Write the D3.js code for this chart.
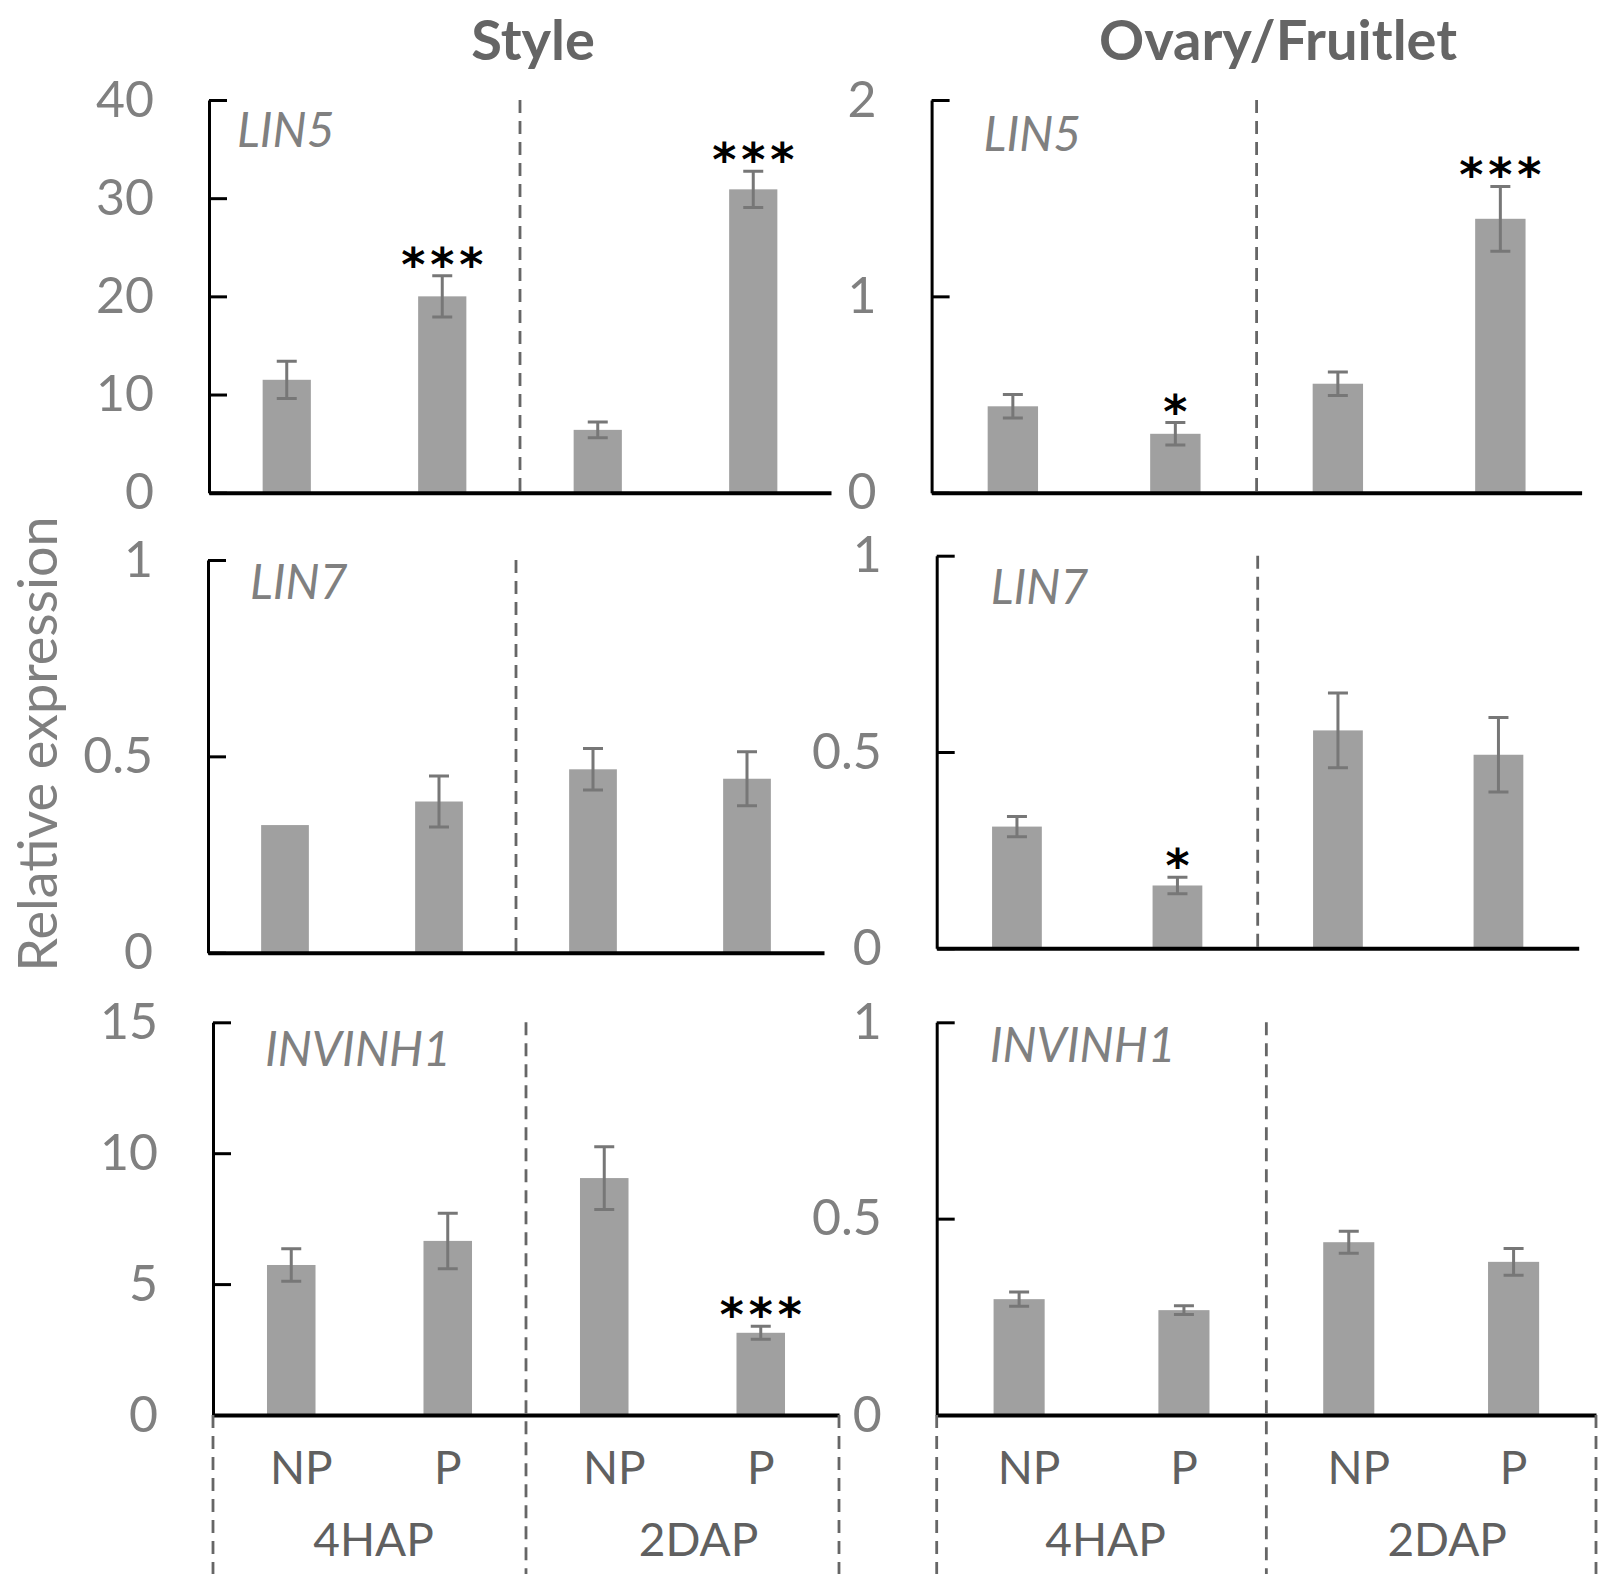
<!DOCTYPE html>
<html>
<head>
<meta charset="utf-8">
<script src="https://cdn.jsdelivr.net/npm/d3@7"></script>
<style>
  body { margin: 0; background: #fff; }
</style>
</head>
<body>
<div id="chart"></div>
<script>
// ---- data ----
const genes = ["LIN5", "LIN7", "INVINH1"];
const tissues = ["Style", "Ovary/Fruitlet"];
const stages = ["4HAP", "2DAP"];
const treatments = ["NP", "P"];
const categories = ["4HAP NP", "4HAP P", "2DAP NP", "2DAP P"];

// order of every array: 4HAP NP, 4HAP P, 2DAP NP, 2DAP P
const styleLIN5 = [11.5, 20.0, 6.4, 30.9];
const styleLIN5Err = [1.9, 2.1, 0.8, 1.85];
const styleLIN5Sig = ["", "***", "", "***"];
const styleLIN5Ticks = [0, 10, 20, 30, 40];

const ovaryLIN5 = [0.44, 0.30, 0.555, 1.395];
const ovaryLIN5Err = [0.06, 0.057, 0.06, 0.165];
const ovaryLIN5Sig = ["", "*", "", "***"];
const ovaryLIN5Ticks = [0, 1, 2];

const styleLIN7 = [0.325, 0.385, 0.467, 0.443];
const styleLIN7Err = [0, 0.065, 0.053, 0.069];
const styleLIN7Sig = ["", "", "", ""];
const styleLIN7Ticks = [0, 0.5, 1];

const ovaryLIN7 = [0.31, 0.16, 0.555, 0.493];
const ovaryLIN7Err = [0.026, 0.021, 0.095, 0.095];
const ovaryLIN7Sig = ["", "*", "", ""];
const ovaryLIN7Ticks = [0, 0.5, 1];

const styleINVINH1 = [5.73, 6.65, 9.05, 3.14];
const styleINVINH1Err = [0.62, 1.06, 1.2, 0.25];
const styleINVINH1Sig = ["", "", "", "***"];
const styleINVINH1Ticks = [0, 5, 10, 15];

const ovaryINVINH1 = [0.295, 0.267, 0.44, 0.39];
const ovaryINVINH1Err = [0.018, 0.011, 0.028, 0.034];
const ovaryINVINH1Sig = ["", "", "", ""];
const ovaryINVINH1Ticks = [0, 0.5, 1];

// ---- layout ----
const width = 1600;
const height = 1584;
const barColor = "#a0a0a0";
const errColor = "#777777";
const textGray = "#808080";
const catBottom = 1574; // lower end of the category divider lines

// one entry per panel, row by row
const layout = [
    {x0: 209, x1: 831, top: 100, bottom: 492.7, labelDx: 28, labelDy: 47},
    {x0: 931.6, x1: 1581.6, top: 100, bottom: 492.7, labelDx: 52, labelDy: 51},
    {x0: 208, x1: 824, top: 560, bottom: 952.7, labelDx: 42, labelDy: 39},
    {x0: 936.7, x1: 1578.7, top: 555.7, bottom: 948.3, labelDx: 54, labelDy: 48},
    {x0: 213, x1: 839, top: 1022.3, bottom: 1415, labelDx: 52, labelDy: 44},
    {x0: 936.7, x1: 1596, top: 1022.3, bottom: 1415, labelDx: 53, labelDy: 40}
];

const panelData = [
    {gene: genes[0], values: styleLIN5, err: styleLIN5Err, sig: styleLIN5Sig, ticks: styleLIN5Ticks},
    {gene: genes[0], values: ovaryLIN5, err: ovaryLIN5Err, sig: ovaryLIN5Sig, ticks: ovaryLIN5Ticks},
    {gene: genes[1], values: styleLIN7, err: styleLIN7Err, sig: styleLIN7Sig, ticks: styleLIN7Ticks},
    {gene: genes[1], values: ovaryLIN7, err: ovaryLIN7Err, sig: ovaryLIN7Sig, ticks: ovaryLIN7Ticks},
    {gene: genes[2], values: styleINVINH1, err: styleINVINH1Err, sig: styleINVINH1Sig, ticks: styleINVINH1Ticks},
    {gene: genes[2], values: ovaryINVINH1, err: ovaryINVINH1Err, sig: ovaryINVINH1Sig, ticks: ovaryINVINH1Ticks}
];

const svg = d3.select("#chart")
    .append("svg")
        .attr("width", width)
        .attr("height", height)
        .style("font-family", "Lato, 'Open Sans', sans-serif");

// column titles
const titleX = [533, 1278];
svg.selectAll("text.title")
    .data(tissues)
    .enter().append("text")
        .attr("class", "title")
        .attr("x", (d, i) => titleX[i])
        .attr("y", 60)
        .attr("text-anchor", "middle")
        .attr("font-size", 56)
        .attr("font-weight", "bold")
        .attr("fill", "#656565")
        .text(d => d);

// y axis title
svg.append("text")
    .attr("transform", "translate(57,744) rotate(-90)")
    .attr("text-anchor", "middle")
    .attr("font-size", 54)
    .attr("fill", textGray)
    .text("Relative expression");

panelData.forEach((p, idx) => {
    const L = layout[idx];
    const isBottomRow = idx >= 4;
    const g = svg.append("g").attr("class", "panel");

    const x = d3.scaleBand()
        .domain(categories)
        .range([L.x0, L.x1])
        .paddingInner(0.69)
        .paddingOuter(0.345);

    const y = d3.scaleLinear()
        .domain([0, d3.max(p.ticks)])
        .range([L.bottom, L.top]);

    const rows = categories.map((c, i) => ({cat: c, v: p.values[i], e: p.err[i], s: p.sig[i]}));

    // divider between the two stages
    const mid = (L.x0 + L.x1) / 2;
    g.append("line")
        .attr("x1", mid).attr("x2", mid)
        .attr("y1", L.top).attr("y2", isBottomRow ? catBottom : L.bottom)
        .attr("stroke", "#666")
        .attr("stroke-width", 2.8)
        .attr("stroke-dasharray", "13,8");

    // bars
    g.selectAll("rect.bar")
        .data(rows)
        .enter().append("rect")
            .attr("class", "bar")
            .attr("x", d => x(d.cat))
            .attr("width", x.bandwidth())
            .attr("y", d => y(d.v))
            .attr("height", d => y(0) - y(d.v))
            .attr("fill", barColor);

    // error bars
    const cap = 10;
    g.selectAll("path.err")
        .data(rows.filter(d => d.e > 0))
        .enter().append("path")
            .attr("class", "err")
            .attr("d", d => {
                const cx = x(d.cat) + x.bandwidth() / 2;
                const yt = y(d.v + d.e), yb = y(d.v - d.e);
                return `M${cx - cap},${yt}H${cx + cap}M${cx},${yt}V${yb}M${cx - cap},${yb}H${cx + cap}`;
            })
            .attr("fill", "none")
            .attr("stroke", errColor)
            .attr("stroke-width", 3);

    // significance stars
    g.selectAll("text.sig")
        .data(rows.filter(d => d.s))
        .enter().append("text")
            .attr("class", "sig")
            .attr("x", d => x(d.cat) + x.bandwidth() / 2)
            .attr("y", d => y(d.v + d.e) + 5)
            .attr("dx", d => d.s.length > 1 ? 2.5 : 0)
            .attr("text-anchor", "middle")
            .attr("font-family", "'DejaVu Sans', sans-serif")
            .attr("font-weight", "bold")
            .attr("font-size", 46)
            .attr("letter-spacing", d => d.s.length > 1 ? 5 : 0)
            .attr("fill", "#000")
            .text(d => d.s);

    // y axis
    const yAxis = g.append("g")
        .attr("transform", `translate(${L.x0},0)`)
        .call(d3.axisLeft(y)
            .tickValues(p.ticks)
            .tickSizeInner(-18)
            .tickSizeOuter(0)
            .tickPadding(55)
            .tickFormat(d => String(d)));
    yAxis.attr("font-family", null).attr("font-size", 50).attr("color", "#000");
    yAxis.select(".domain").attr("stroke-width", 3);
    yAxis.selectAll(".tick line").attr("stroke-width", 3);
    yAxis.selectAll(".tick text").attr("fill", textGray);

    // x axis
    const xAxis = g.append("g")
        .attr("transform", `translate(0,${L.bottom})`)
        .call(d3.axisBottom(x)
            .tickSize(0)
            .tickPadding(36)
            .tickFormat((d, i) => isBottomRow ? treatments[i % 2] : ""));
    xAxis.attr("font-family", null).attr("font-size", 46).attr("color", "#000");
    xAxis.select(".domain").attr("stroke-width", 4);
    xAxis.selectAll(".tick text")
        .attr("fill", "#606060")
        .attr("dx", (d, i) => i % 2 === 0 ? 10 : 0);

    // gene name
    g.append("text")
        .attr("x", L.x0 + L.labelDx)
        .attr("y", L.top + L.labelDy)
        .attr("font-size", 48)
        .attr("font-style", "italic")
        .attr("fill", textGray)
        .text(p.gene);

    // stage labels and outer dividers under the bottom row
    if (isBottomRow) {
        [L.x0, L.x1].forEach(xx => {
            g.append("line")
                .attr("x1", xx).attr("x2", xx)
                .attr("y1", L.bottom).attr("y2", catBottom)
                .attr("stroke", "#666")
                .attr("stroke-width", 2.8)
                .attr("stroke-dasharray", "13,8");
        });
        g.selectAll("text.stage")
            .data(stages)
            .enter().append("text")
                .attr("class", "stage")
                .attr("x", (d, i) => i === 0 ? (L.x0 + mid) / 2 + 4 : (mid + L.x1) / 2 + 16)
                .attr("y", 1539)
                .attr("dy", "0.36em")
                .attr("text-anchor", "middle")
                .attr("font-size", 46)
                .attr("fill", "#606060")
                .text(d => d);
    }
});
</script>
</body>
</html>
